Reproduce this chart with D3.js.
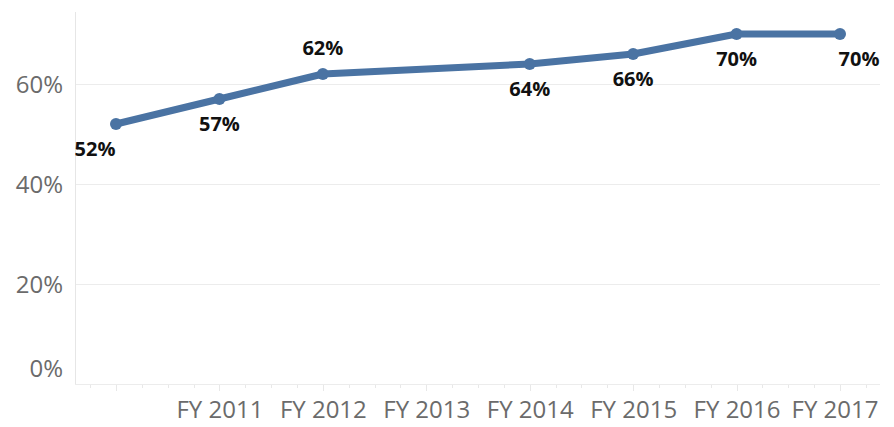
<!DOCTYPE html>
<html>
<head>
<meta charset="utf-8">
<script src="https://cdn.jsdelivr.net/npm/d3@7"></script>
<style>
  body { margin: 0; background: #fff; }
  svg { display: block; }
</style>
</head>
<body>
<div id="chart"></div>
<script>
"use strict";

// data (FY 2013 has no value, line joins across it)
var years = ["FY 2010", "FY 2011", "FY 2012", "FY 2013", "FY 2014", "FY 2015", "FY 2016", "FY 2017"];
var rates = [0.52, 0.57, 0.62, null, 0.64, 0.66, 0.70, 0.70];
var yTicks = [0, 0.2, 0.4, 0.6];
var shownYearLabels = ["FY 2011", "FY 2012", "FY 2013", "FY 2014", "FY 2015", "FY 2016", "FY 2017"];
// where each value label sits relative to its point
var labelSide = ["belowLeft", "below", "above", "below", "below", "below", "below", "belowRight"];

var width = 894, height = 427;

var svg = d3.select("#chart")
        .append("svg")
        .attr("width", width)
        .attr("height", height);

var x = d3.scalePoint()
        .domain(years)
        .range([116, 840]);

var y = d3.scaleLinear()
        .domain([0, 0.744])
        .range([384, 12]);

// gridlines
svg.append("g")
        .selectAll("line")
        .data(yTicks)
        .enter()
        .append("line")
        .attr("x1", 75)
        .attr("x2", 880)
        .attr("y1", function (d) { return y(d) + 0.5; })
        .attr("y2", function (d) { return y(d) + 0.5; })
        .attr("stroke", "#ececec")
        .attr("stroke-width", 1);

// vertical axis line
svg.append("line")
        .attr("x1", 75.5).attr("x2", 75.5)
        .attr("y1", 12).attr("y2", 384)
        .attr("stroke", "#e6e6e6");

// y labels
svg.append("g")
        .selectAll("text")
        .data(yTicks)
        .enter()
        .append("text")
        .attr("x", 63)
        .attr("y", function (d) { return d == 0 ? y(d) - 16 : y(d); })
        .attr("dy", "0.36em")
        .attr("text-anchor", "end")
        .attr("font-family", "Open Sans, sans-serif")
        .attr("font-size", 24)
        .attr("fill", "#6b6b6b")
        .text(function (d) { return d3.format(".0%")(d); });

// x axis with minor ticks between categories
var step = x.step();
var minorTicks = d3.range(x(years[0]) - step / 4, 880, step / 4);
svg.append("g")
        .selectAll("line")
        .data(minorTicks)
        .enter()
        .append("line")
        .attr("x1", function (d) { return Math.round(d) + 0.5; })
        .attr("x2", function (d) { return Math.round(d) + 0.5; })
        .attr("y1", 384)
        .attr("y2", function (d, i) { return (i % 4 == 1) ? 391 : 388; })
        .attr("stroke", "#e8e8e8");

var xAxis = svg.append("g")
        .attr("transform", "translate(0,384)")
        .call(d3.axisBottom(x).tickSize(0)
                .tickFormat(function (d) { return shownYearLabels.includes(d) ? d : ""; }));
xAxis.select(".domain").attr("stroke", "#ececec").attr("d", "M75,0.5H880");
xAxis.selectAll("text")
        .attr("y", 34)
        .attr("dy", 0)
        .attr("font-family", "Open Sans, sans-serif")
        .attr("font-size", 24)
        .attr("fill", "#6b6b6b");

// keep the last label inside the plot edge
xAxis.selectAll(".tick").each(function (d) {
        var t = d3.select(this).select("text");
        var box = t.node().getBBox();
        var right = x(d) + box.width / 2;
        if (right > 878) t.attr("x", 878 - right);
});

// line
var points = years.map(function (d, i) { return { year: d, value: rates[i], side: labelSide[i] }; })
        .filter(function (d) { return d.value != null; });

var line = d3.line()
        .x(function (d) { return x(d.year); })
        .y(function (d) { return y(d.value); });

svg.append("path")
        .datum(points)
        .attr("d", line)
        .attr("fill", "none")
        .attr("stroke", "#4a73a3")
        .attr("stroke-width", 7)
        .attr("stroke-linejoin", "round");

svg.selectAll("circle.pt")
        .data(points)
        .enter()
        .append("circle")
        .attr("class", "pt")
        .attr("cx", function (d) { return x(d.year); })
        .attr("cy", function (d) { return y(d.value); })
        .attr("r", 6)
        .attr("fill", "#4a73a3");

// value labels
svg.selectAll("text.val")
        .data(points)
        .enter()
        .append("text")
        .attr("class", "val")
        .attr("x", function (d) {
                if (d.side == "belowLeft") return x(d.year) - 21;
                if (d.side == "belowRight") return x(d.year) + 19;
                return x(d.year);
        })
        .attr("y", function (d) {
                if (d.side == "above") return y(d.value) - 26;
                return y(d.value) + 25;
        })
        .attr("dy", "0.36em")
        .attr("text-anchor", "middle")
        .attr("font-family", "Open Sans, sans-serif")
        .attr("font-weight", "bold")
        .attr("font-size", 20)
        .attr("fill", "#111")
        .text(function (d) { return d3.format(".0%")(d.value); });
</script>
</body>
</html>
